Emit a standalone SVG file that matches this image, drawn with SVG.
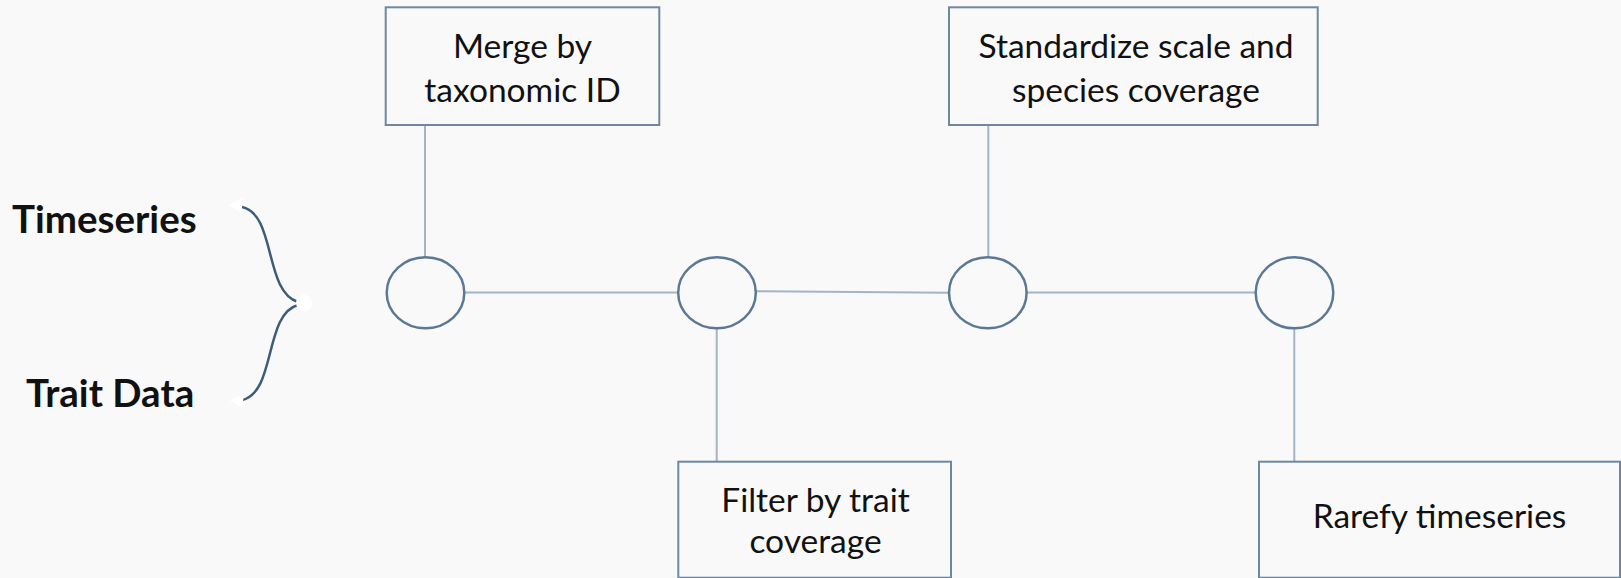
<svg xmlns="http://www.w3.org/2000/svg" width="1621" height="578" viewBox="0 0 1621 578">
<style>
.bg{fill:#f9f9f9}
.box{fill:#f9f9f9;stroke:#6f88a0;stroke-width:2}
.node{fill:#f9f9f9;stroke:#5b7894;stroke-width:2.5}
.conn{stroke:#a2b4c6;stroke-width:2;fill:none}
.brace{stroke:#3d5b7b;stroke-width:2.5;fill:none}
.lbl{font-family:Lato,"Open Sans",sans-serif;font-size:33.5px;fill:#111;text-anchor:middle}
.big{font-family:Lato,"Open Sans",sans-serif;font-size:38.5px;font-weight:bold;fill:#111}
</style>
<rect class="bg" x="0" y="0" width="1621" height="578"/>
<g id="connectors">
<line class="conn" x1="425" y1="125" x2="425" y2="257"/>
<line class="conn" x1="988.3" y1="125" x2="988.3" y2="257"/>
<line class="conn" x1="716.7" y1="328" x2="716.7" y2="462"/>
<line class="conn" x1="1294.3" y1="328" x2="1294.3" y2="462"/>
<line class="conn" x1="464" y1="292.5" x2="678" y2="292.5"/>
<line class="conn" x1="756" y1="291.2" x2="949" y2="292.8"/>
<line class="conn" x1="1027" y1="292.5" x2="1256" y2="292.5"/>
<path class="brace" d="M242,207 C276,214 264,292 298,302"/>
<path class="brace" d="M298,305 C264,314 276,393 242,400"/>
<polygon points="229,205 243,198 241,213" fill="#ffffff"/>
<polygon points="230,400.5 244,394 242,408" fill="#ffffff"/>
<circle cx="304" cy="303" r="8" fill="#ffffff"/>
</g>
<g id="timeseries"><text class="big" x="12" y="232.5">Timeseries</text></g>
<g id="traitdata"><text class="big" x="26" y="406.5">Trait Data</text></g>
<g id="n1"><ellipse class="node" cx="425.5" cy="292.8" rx="38.8" ry="35.5"/></g>
<g id="n2"><ellipse class="node" cx="717" cy="292.8" rx="38.8" ry="35.5"/></g>
<g id="n3"><ellipse class="node" cx="987.8" cy="292.8" rx="38.8" ry="35.5"/></g>
<g id="n4"><ellipse class="node" cx="1294.5" cy="292.8" rx="38.8" ry="35.5"/></g>
<g id="merge">
<rect class="box" x="385.7" y="7.3" width="273.6" height="117.7"/>
<text class="lbl" x="522.5" y="58">Merge by</text>
<text class="lbl" x="522.5" y="102">taxonomic ID</text>
</g>
<g id="standardize">
<rect class="box" x="949" y="7.3" width="368.7" height="117.7"/>
<text class="lbl" x="1136" y="58.3">Standardize scale and</text>
<text class="lbl" x="1136" y="102">species coverage</text>
</g>
<g id="filter">
<rect class="box" x="678.3" y="461.7" width="272.7" height="116"/>
<text class="lbl" x="815.5" y="512">Filter by trait</text>
<text class="lbl" x="815.5" y="553">coverage</text>
</g>
<g id="rarefy">
<rect class="box" x="1259" y="461.7" width="361" height="116"/>
<text class="lbl" x="1439.5" y="527.5">Rarefy timeseries</text>
</g>
</svg>
